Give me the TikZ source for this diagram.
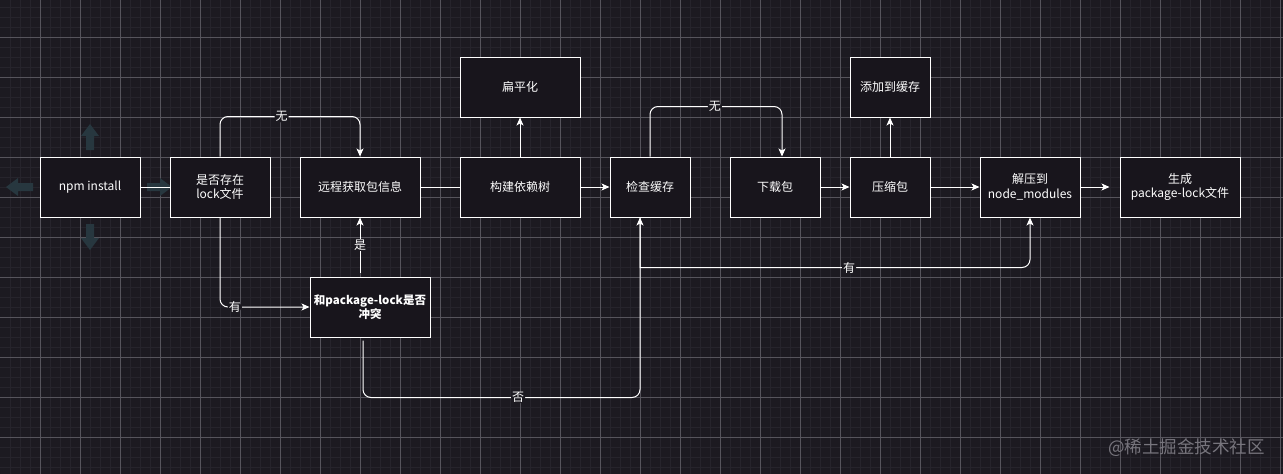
\documentclass[tikz,border=0pt]{standalone}
\usepackage{fontspec}
\setmainfont{Noto Sans CJK SC}
\usetikzlibrary{arrows.meta}
\definecolor{bg}{HTML}{1C1A21}
\definecolor{boxfill}{HTML}{18151C}
\definecolor{minorgrid}{HTML}{26242C}
\definecolor{majorgrid}{HTML}{56545C}
\definecolor{handle}{HTML}{27373F}
\definecolor{wm}{HTML}{77757D}
\tikzset{
  box/.style={draw=white, line width=1pt, fill=boxfill, text=white, align=center,
    inner sep=0pt, minimum height=60pt, font=\fontsize{12}{14.5}\selectfont},
  lbl/.style={fill=bg, text=white, inner sep=1pt, font=\fontsize{12}{14}\selectfont},
  conn/.style={draw=white, line width=1pt},
  arr/.style={conn, -{Stealth[length=8pt,width=7pt,inset=2pt]}},
  handlearrow/.style={fill=handle, draw=none},
}
\begin{document}
\begin{tikzpicture}[x=1pt,y=-1pt]
\useasboundingbox (0,0) rectangle (1283,474);
\fill[bg] (0,0) rectangle (1283,474);
% grid
\foreach \x in {10,20,...,1280} \draw[minorgrid, line width=1pt] (\x,0) -- (\x,474);
\foreach \y in {7,17,...,467} \draw[minorgrid, line width=1pt] (0,\y) -- (1283,\y);
\foreach \x in {40,80,...,1280} \draw[majorgrid, line width=0.8pt] (\x,0) -- (\x,474);
\foreach \y in {37,77,...,437} \draw[majorgrid, line width=0.8pt] (0,\y) -- (1283,\y);

% hover handles around npm install
\fill[handlearrow] (90,124) -- (99,136) -- (94,136) -- (94,150) -- (86,150) -- (86,136) -- (81,136) -- cycle;
\fill[handlearrow] (90,250) -- (99,238) -- (94,238) -- (94,224) -- (86,224) -- (86,238) -- (81,238) -- cycle;
\fill[handlearrow] (6,187) -- (18,178) -- (18,183) -- (33,183) -- (33,191) -- (18,191) -- (18,196) -- cycle;
\fill[handlearrow] (172,187) -- (160,178) -- (160,183) -- (147,183) -- (147,191) -- (160,191) -- (160,196) -- cycle;

% nodes
\node[box, minimum width=100pt] (npm) at (90,187) {npm install};
\node[box, minimum width=100pt] (lock) at (220,187) {是否存在\\lock文件};
\node[box, minimum width=120pt] (remote) at (360,187) {远程获取包信息};
\node[box, minimum width=120pt] (build) at (520,187) {构建依赖树};
\node[box, minimum width=120pt] (flat) at (520,87) {扁平化};
\node[box, minimum width=80pt] (cache) at (650,187) {检查缓存};
\node[box, minimum width=90pt] (dl) at (775,187) {下载包};
\node[box, minimum width=80pt] (zip) at (890,187) {压缩包};
\node[box, minimum width=80pt] (addc) at (890,87) {添加到缓存};
\node[box, minimum width=100pt] (unzip) at (1030,187) {解压到\\node\_modules};
\node[box, minimum width=120pt] (gen) at (1180,187) {生成\\package-lock文件};
\node[box, minimum width=120pt, font=\fontsize{11.5}{14.5}\selectfont\bfseries] (conflict) at (370,307) {和package-lock是否\\冲突};

% connectors
\draw[conn] (npm) -- (lock);
\draw[arr, rounded corners=8pt] (lock.north) -- ++(0,-40) -| (remote.north) node[lbl, pos=0.22] {无};
\draw[arr, rounded corners=8pt] (lock.south) |- (conflict.west) node[lbl, pos=0.583] {有};
\draw[arr] ([xshift=-10pt,yshift=4pt]conflict.north) -- (remote.south) node[lbl, midway] {是};
\draw[arr, rounded corners=8pt] ([xshift=-7pt,yshift=-3pt]conflict.south) |- ([xshift=-10pt,yshift=-180pt]cache.south) node[lbl, pos=0.78] {否} -- ([xshift=-10pt]cache.south);
\draw[conn] (remote) -- (build);
\draw[arr] (build.north) -- (flat.south);
\draw[arr] (build) -- (cache);
\draw[arr, rounded corners=8pt] (cache.north) -- ++(0,-50) -| ([xshift=7pt]dl.north) node[lbl, pos=0.246] {无};
\draw[arr] ([xshift=-10pt]cache.south) -- ++(0,50) [rounded corners=8pt] -| (unzip.south) node[lbl, pos=0.268] {有};
\draw[arr] (dl) -- (zip);
\draw[arr] (zip.north) -- (addc.south);
\draw[arr] (zip) -- (unzip);
\draw[arr, shorten >=10pt] (unzip) -- (gen);

% watermark
\node[text=wm, font=\fontsize{17.5}{20}\selectfont, anchor=east, inner sep=0pt] (wmark) at (1265,448) {@稀土掘金技术社区};
\end{tikzpicture}
\end{document}
